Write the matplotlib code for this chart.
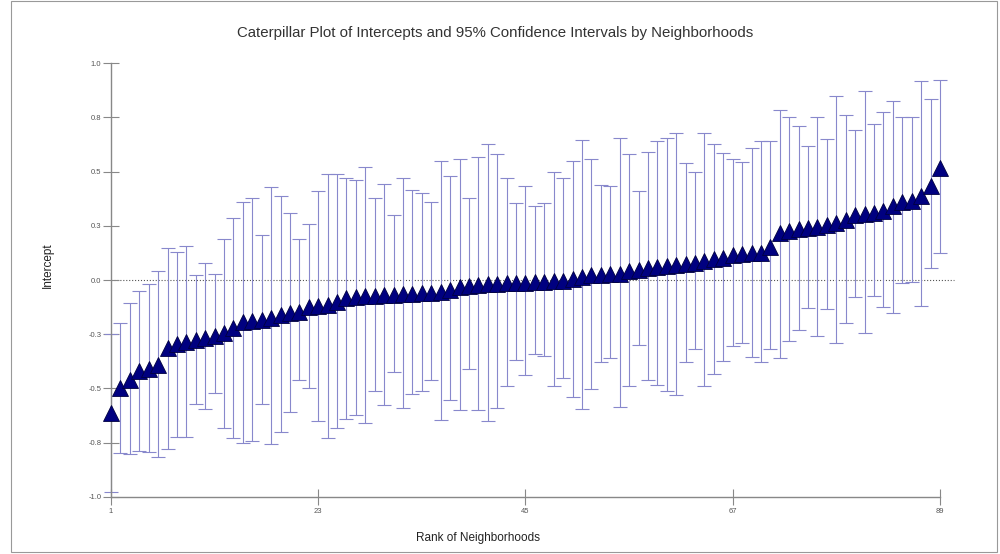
import numpy as np
import matplotlib
matplotlib.use("Agg")
import matplotlib.pyplot as plt
from matplotlib.patches import Rectangle

plt.rcParams['font.family'] = ['Liberation Sans', 'DejaVu Sans']

# rank of each neighbourhood and its intercept with 95% CI
rank = list(range(1, 90))

intercept = [
    -0.615, -0.50, -0.46, -0.42, -0.41, -0.39, -0.315, -0.297, -0.285, -0.277,
    -0.266, -0.257, -0.246, -0.223, -0.195, -0.19, -0.185, -0.174, -0.16, -0.154,
    -0.146, -0.125, -0.12, -0.115, -0.10, -0.085, -0.08, -0.075, -0.072, -0.07,
    -0.068, -0.066, -0.064, -0.062, -0.06, -0.055, -0.045, -0.03, -0.027, -0.024,
    -0.02, -0.018, -0.016, -0.014, -0.012, -0.01, -0.008, -0.006, -0.004, 0.005,
    0.015, 0.022, 0.025, 0.028, 0.03, 0.04, 0.045, 0.054, 0.058, 0.065,
    0.068, 0.074, 0.08, 0.09, 0.095, 0.10, 0.115, 0.12, 0.123, 0.125,
    0.154, 0.215, 0.228, 0.235, 0.238, 0.245, 0.254, 0.265, 0.277, 0.30,
    0.305, 0.31, 0.32, 0.34, 0.36, 0.366, 0.39, 0.435, 0.515,
]

upper = [
    -0.25, -0.20, -0.108, -0.05, -0.017, 0.04, 0.15, 0.13, 0.158, 0.023,
    0.08, 0.03, 0.19, 0.285, 0.36, 0.377, 0.21, 0.43, 0.39, 0.31,
    0.19, 0.26, 0.41, 0.49, 0.49, 0.47, 0.46, 0.52, 0.38, 0.445,
    0.30, 0.47, 0.415, 0.40, 0.36, 0.55, 0.48, 0.557, 0.38, 0.57,
    0.63, 0.58, 0.47, 0.355, 0.435, 0.34, 0.355, 0.50, 0.47, 0.55,
    0.646, 0.56, 0.44, 0.435, 0.654, 0.58, 0.41, 0.59, 0.64, 0.657,
    0.68, 0.54, 0.50, 0.68, 0.626, 0.585, 0.56, 0.546, 0.608, 0.643,
    0.64, 0.785, 0.75, 0.712, 0.62, 0.75, 0.65, 0.85, 0.76, 0.69,
    0.874, 0.72, 0.777, 0.826, 0.754, 0.75, 0.92, 0.834, 0.923,
]

lower = [
    -0.98, -0.80, -0.805, -0.79, -0.795, -0.815, -0.78, -0.726, -0.726, -0.574,
    -0.597, -0.523, -0.685, -0.73, -0.75, -0.745, -0.574, -0.758, -0.70, -0.61,
    -0.46, -0.50, -0.65, -0.73, -0.685, -0.64, -0.625, -0.66, -0.51, -0.575,
    -0.425, -0.59, -0.525, -0.51, -0.46, -0.645, -0.555, -0.60, -0.41, -0.60,
    -0.65, -0.59, -0.49, -0.37, -0.44, -0.34, -0.35, -0.49, -0.45, -0.54,
    -0.595, -0.505, -0.38, -0.36, -0.585, -0.49, -0.30, -0.46, -0.485, -0.51,
    -0.53, -0.38, -0.32, -0.49, -0.435, -0.372, -0.305, -0.29, -0.354, -0.377,
    -0.318, -0.36, -0.28, -0.23, -0.13, -0.257, -0.135, -0.29, -0.197, -0.08,
    -0.246, -0.074, -0.123, -0.15, -0.015, -0.01, -0.118, 0.054, 0.123,
]

y_ticks = [-1.0, -0.75, -0.5, -0.25, 0.0, 0.25, 0.5, 0.75, 1.0]
y_tick_labels = ['-1.0', '-0.8', '-0.5', '-0.3', '0.0', '0.3', '0.5', '0.8', '1.0']
x_ticks = [1, 23, 45, 67, 89]

intercept = np.array(intercept)
err = [intercept - np.array(lower), np.array(upper) - intercept]

fig = plt.figure(figsize=(10, 5.54), dpi=100)
ax = fig.add_axes([0.111, 0.1034, 0.844, 0.7823])

# dotted reference line at zero
ax.plot([1, 90.5], [0, 0], linestyle=':', color='#555555', linewidth=0.8, zorder=1)

bars = ax.errorbar(rank, intercept, yerr=err, fmt='none', ecolor='#8888cc',
                   elinewidth=0.8, capsize=5, capthick=0.8, zorder=2)
for art in bars.lines[1]:
    art.set_clip_on(False)
for art in bars.lines[2]:
    art.set_clip_on(False)
ax.plot(rank, intercept, linestyle='none', marker='^', markersize=11,
        markerfacecolor='#000080', markeredgecolor='#000040',
        markeredgewidth=0.6, zorder=3, clip_on=False)

ax.set_xlim(1, 90.6)
ax.set_ylim(-1.0, 1.0)

for side in ['top', 'right']:
    ax.spines[side].set_visible(False)
ax.spines['left'].set_bounds(-1.0, 1.0)
ax.spines['bottom'].set_bounds(1, 89)
for side in ['left', 'bottom']:
    ax.spines[side].set_color('#888888')
    ax.spines[side].set_linewidth(1.0)

ax.set_yticks(y_ticks)
ax.set_yticklabels(y_tick_labels)
ax.set_xticks(x_ticks)
ax.tick_params(axis='both', direction='inout', length=12, width=0.8,
               color='#888888', labelsize=5.5, labelcolor='#555555')
ax.tick_params(axis='y', pad=1)
ax.tick_params(axis='x', pad=2)

fig.text(0.495, 0.94, 'Caterpillar Plot of Intercepts and 95% Confidence Intervals by Neighborhoods',
         fontsize=10.8, color='#333333', ha='center', va='center')
fig.text(0.478, 0.029, 'Rank of Neighborhoods', fontsize=8.5, color='#222222',
         ha='center', va='center')
fig.text(0.048, 0.522, 'Intercept', fontsize=8.5, color='#222222', rotation=90,
         ha='center', va='center')

# thin frame round the whole picture
fig.patches.append(Rectangle((0.011, 0.004), 0.986, 0.994, transform=fig.transFigure,
                             fill=False, edgecolor='#999999', linewidth=0.8))

fig.savefig('out.png', dpi=100)
